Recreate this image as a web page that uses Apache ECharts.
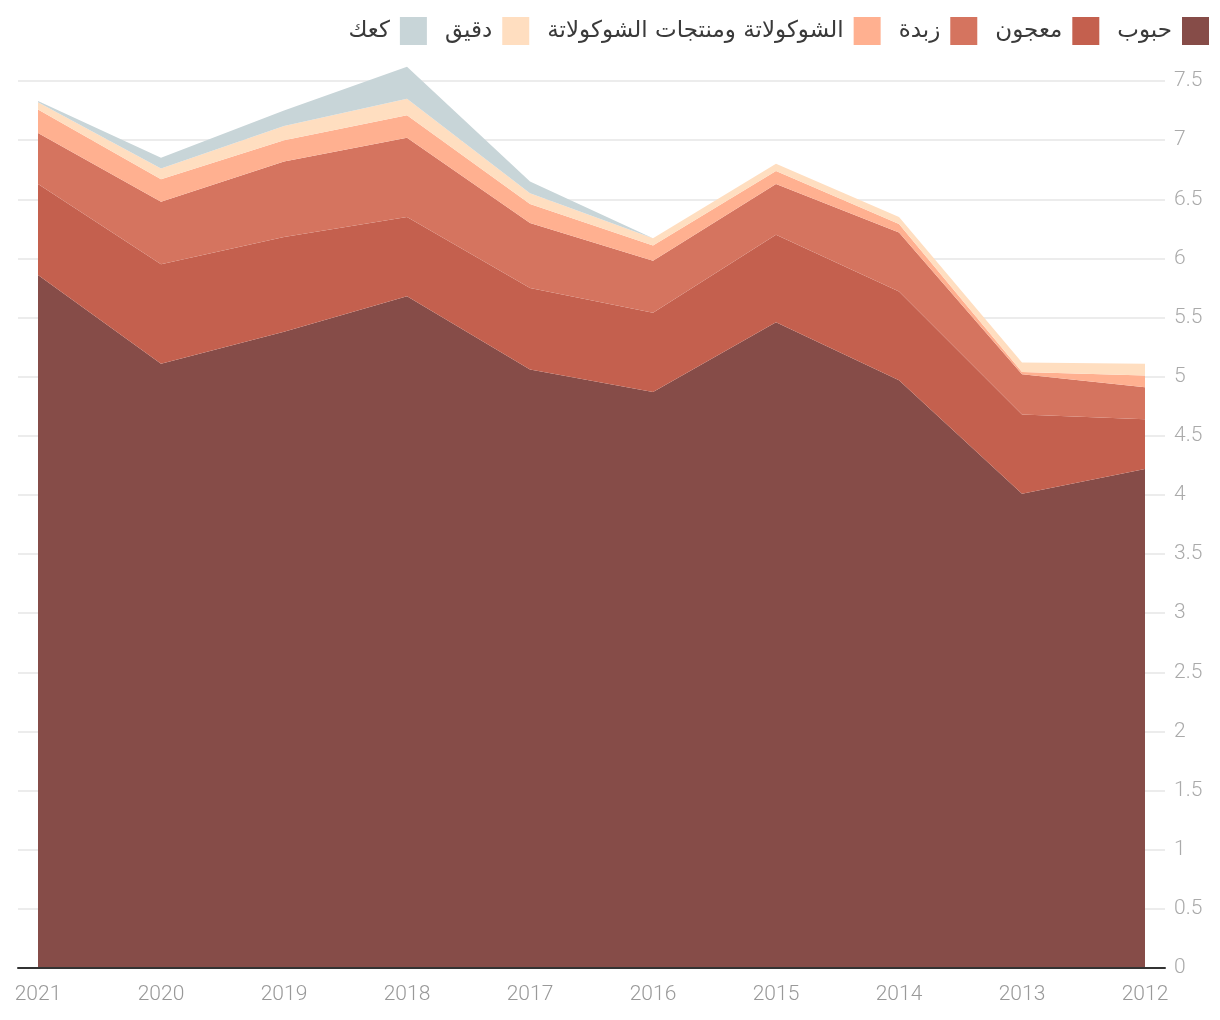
<!DOCTYPE html>
<html>
<head>
<meta charset="utf-8">
<script src="https://cdn.jsdelivr.net/npm/echarts@6/dist/echarts.min.js"></script>
<style>
html,body{margin:0;padding:0;background:#fff;}
#chart{width:1220px;height:1020px;}
</style>
</head>
<body>
<div id="chart"></div>
<script>
const years = ['2021','2020','2019','2018','2017','2016','2015','2014','2013','2012'];
const seriesNames = ['حبوب','معجون','زبدة','الشوكولاتة ومنتجات الشوكولاتة','دقيق','كعك'];
const grain  = [5.86,5.11,5.38,5.68,5.06,4.87,5.46,4.97,4.01,4.22];
const paste  = [0.77,0.84,0.80,0.67,0.69,0.67,0.74,0.75,0.67,0.42];
const butter = [0.43,0.53,0.64,0.67,0.55,0.44,0.43,0.50,0.34,0.27];
const choc   = [0.20,0.19,0.18,0.19,0.16,0.13,0.11,0.07,0.02,0.10];
const flour  = [0.06,0.09,0.12,0.14,0.09,0.06,0.06,0.06,0.08,0.10];
const cake   = [0.01,0.09,0.13,0.27,0.10,0.00,0.00,0.00,0.00,0.00];
const colors = ['#864C48','#C4604E','#D5745F','#FFB090','#FFDEC0','#C8D5D8'];
const seriesData = [grain, paste, butter, choc, flour, cake];

const chart = echarts.init(document.getElementById('chart'), null, {renderer:'canvas'});
const series = seriesNames.map((n,i)=>({
  name:n, type:'line', xAxisIndex:1, yAxisIndex:1, stack:'total',
  data:seriesData[i], symbol:'none', color:colors[i], clip:false,
  lineStyle:{width:0}, areaStyle:{color:colors[i], opacity:1},
  emphasis:{disabled:true}
}));
chart.setOption({
  animation:false,
  backgroundColor:'#fff',
  legend:{
    data:seriesNames.slice().reverse(),
    right:6, top:12, itemWidth:27, itemHeight:28, icon:'rect', align:'right', itemGap:18,
    textStyle:{fontSize:23, color:'#3a3a3a', fontFamily:'DejaVu Sans', padding:[2,5,0,0]}
  },
  grid:[
    {left:18, right:55, top:81, bottom:52},
    {left:38, right:75, top:81, bottom:52}
  ],
  xAxis:[
    {gridIndex:0, type:'value', min:0, max:1, z:5,
     axisLine:{show:true, lineStyle:{color:'#333', width:2}},
     axisTick:{show:false}, axisLabel:{show:false}, splitLine:{show:false}},
    {gridIndex:1, type:'category', data:years, boundaryGap:false,
     axisLine:{show:false}, axisTick:{show:false}, splitLine:{show:false},
     axisLabel:{interval:0, color:'#999', fontSize:21, margin:16, fontFamily:'Roboto', fontWeight:300}}
  ],
  yAxis:[
    {gridIndex:0, type:'value', position:'right', min:0, max:7.5, interval:0.5, z:3,
     axisLine:{show:false}, axisTick:{show:false},
     axisLabel:{color:'#aaa', fontSize:21, margin:9, fontFamily:'Roboto', fontWeight:300},
     splitLine:{lineStyle:{color:'rgba(0,0,0,0.1)', width:1.5}}},
    {gridIndex:1, type:'value', min:0, max:7.5, show:false, splitLine:{show:false}}
  ],
  series:series
});
</script>
</body>
</html>
